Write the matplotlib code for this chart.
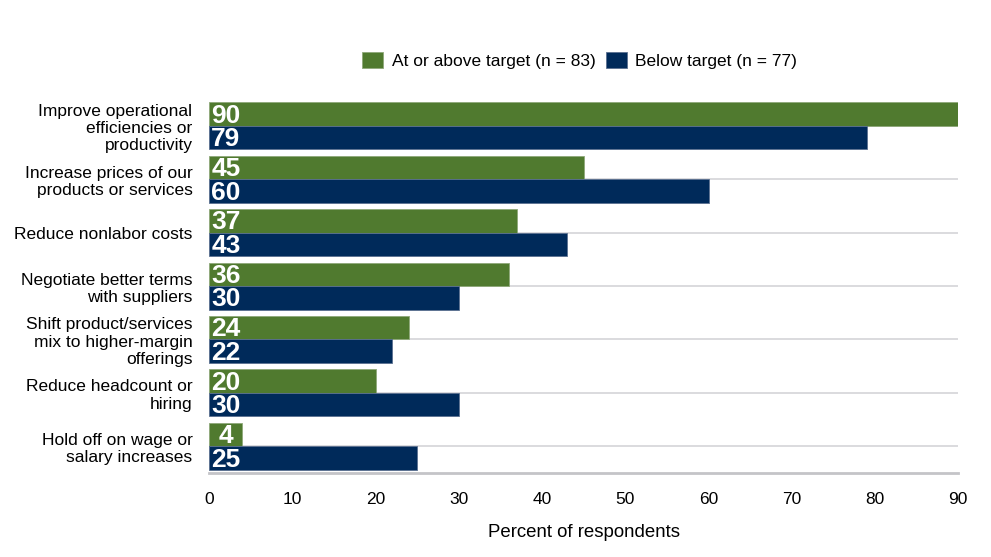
import numpy as np
import matplotlib.pyplot as plt

plt.rcParams['font.family'] = ['Liberation Sans', 'DejaVu Sans']

categories = [
    "Improve operational\nefficiencies or\nproductivity",
    "Increase prices of our\nproducts or services",
    "Reduce nonlabor costs",
    "Negotiate better terms\nwith suppliers",
    "Shift product/services\nmix to higher-margin\nofferings",
    "Reduce headcount or\nhiring",
    "Hold off on wage or\nsalary increases",
]
above = [90, 45, 37, 36, 24, 20, 4]
below = [79, 60, 43, 30, 22, 30, 25]
series_names = ["At or above target (n = 83)", "Below target (n = 77)"]

green = "#507a2f"
navy = "#002a5a"

fig = plt.figure(figsize=(9.91, 5.57), dpi=100)
ax = fig.add_axes([0.211, 0.151, 0.756, 0.671])

y = np.arange(len(categories))
h = 0.44
b1 = ax.barh(y - h / 2, above, height=h, color=green, edgecolor="#8fa87a",
             linewidth=0.6, label=series_names[0], zorder=3)
b2 = ax.barh(y + h / 2, below, height=h, color=navy, edgecolor="#5a7090",
             linewidth=0.6, label=series_names[1], zorder=3)

for bars, vals in ((b1, above), (b2, below)):
    for bar, v in zip(bars, vals):
        # narrow bars get the label centred, others start at the base
        if v < 6:
            xpos, ha = v / 2, "center"
        else:
            xpos, ha = 0.25, "left"
        ax.text(xpos, bar.get_y() + bar.get_height() / 2 + 0.03, str(v),
                color="white", fontsize=19, fontweight="bold",
                ha=ha, va="center", zorder=4)

ax.set_ylim(len(categories) - 0.5, -0.5)
ax.set_xlim(0, 90)
ax.set_xticks(range(0, 91, 10))
ax.set_yticks(y)
ax.set_yticklabels(categories, fontsize=12.5, linespacing=1.2)
ax.tick_params(axis="y", length=0, pad=12)
ax.tick_params(axis="x", length=0, pad=14, labelsize=12.5)
ax.yaxis.grid(True, color="#d4d4d8", linewidth=1.2, zorder=0)
ax.set_axisbelow(True)

for s in ("top", "right", "left"):
    ax.spines[s].set_visible(False)
ax.spines["bottom"].set_color("#c4c4c8")
ax.spines["bottom"].set_linewidth(2)

ax.set_xlabel("Percent of respondents", fontsize=13.4, labelpad=12)

fig.legend(handles=[b1, b2], labels=series_names, loc="center",
           bbox_to_anchor=(0.585, 0.892), ncol=2, frameon=False, fontsize=12.5,
           handlelength=1.2, handleheight=1.1, handletextpad=0.5,
           columnspacing=0.6)

fig.savefig("out.png", dpi=100)
